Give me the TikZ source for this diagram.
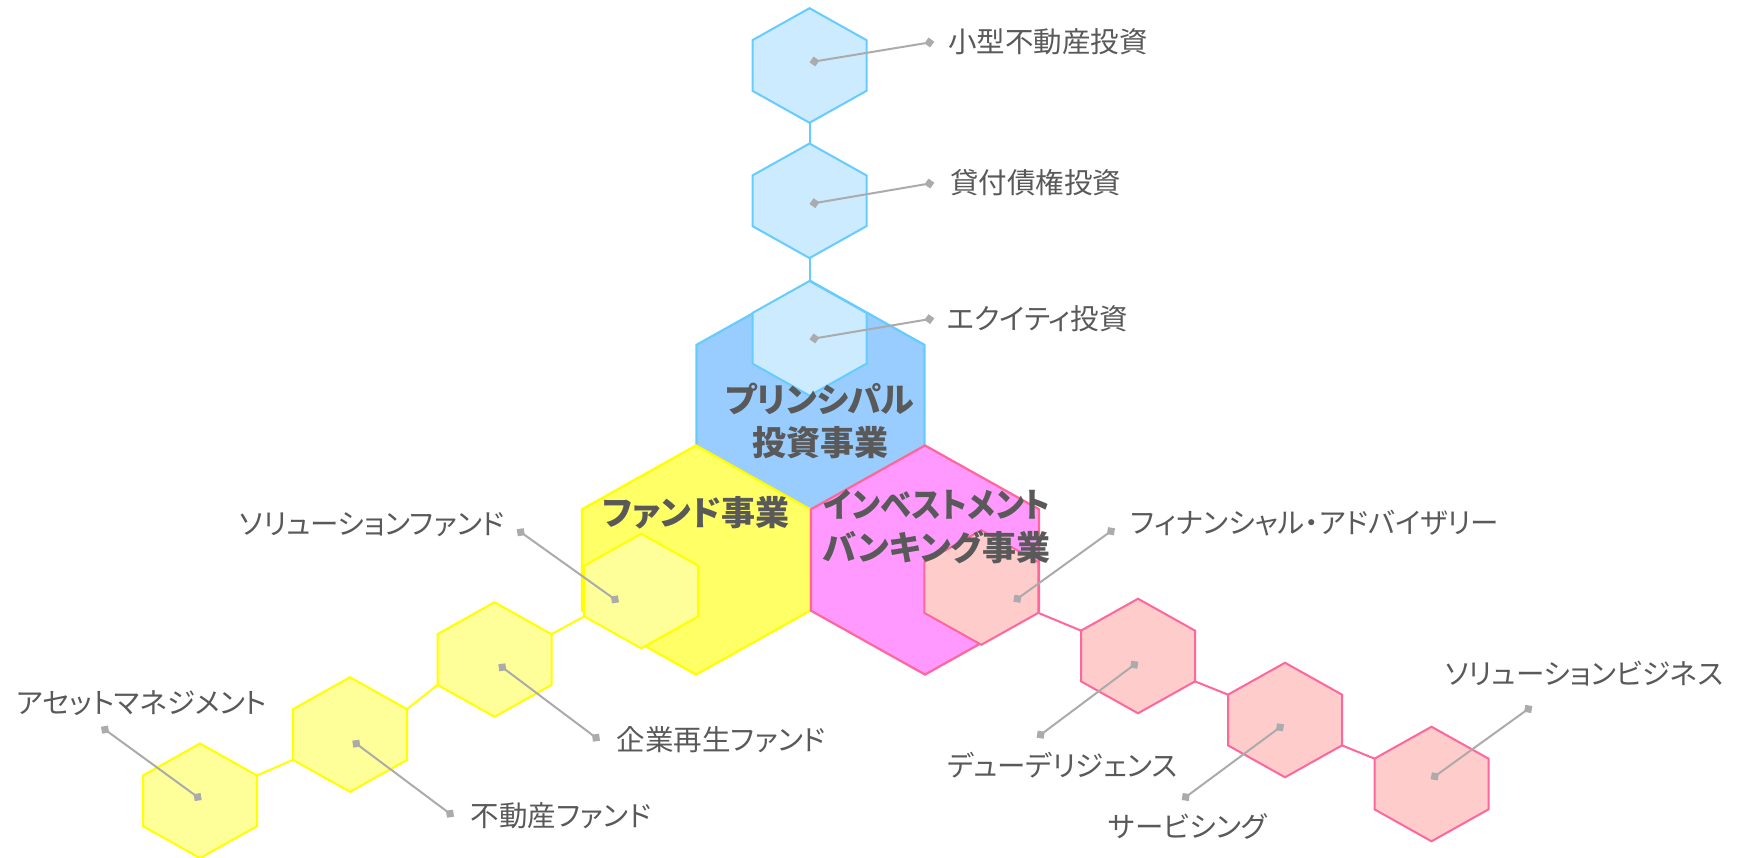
\documentclass[tikz,border=0pt]{standalone}
\usepackage{fontspec}
\newfontfamily\jp[RawFeature=+palt]{Noto Sans CJK JP}
\usetikzlibrary{arrows.meta}
\definecolor{bluefillbig}{HTML}{99CCFF}
\definecolor{bluestroke}{HTML}{66CCFF}
\definecolor{bluefillsmall}{HTML}{CCEBFF}
\definecolor{yelfillbig}{HTML}{FFFF66}
\definecolor{yelstroke}{HTML}{FFFF00}
\definecolor{yelfillsmall}{HTML}{FFFF99}
\definecolor{magfillbig}{HTML}{FF99FF}
\definecolor{pinkstroke}{HTML}{FF6699}
\definecolor{pinkfillsmall}{HTML}{FFCCCC}
\definecolor{txtgray}{HTML}{595959}
\definecolor{linegray}{HTML}{ABABAB}
\newcommand{\hexag}[5]{%
  \pgfmathsetmacro{\hxh}{1.005*#4}%
  \pgfmathsetmacro{\hxt}{0.56*#4}%
  \coordinate (#1) at (#2,#3);
  \coordinate (#1-t) at (#2,{#3-\hxh});
  \coordinate (#1-ur) at ({#2+#4},{#3-\hxh+\hxt});
  \coordinate (#1-lr) at ({#2+#4},{#3+\hxh-\hxt});
  \coordinate (#1-b) at (#2,{#3+\hxh});
  \coordinate (#1-ll) at ({#2-#4},{#3+\hxh-\hxt});
  \coordinate (#1-ul) at ({#2-#4},{#3-\hxh+\hxt});
  \draw[#5] (#1-t) -- (#1-ur) -- (#1-lr) -- (#1-b) -- (#1-ll) -- (#1-ul) -- cycle;
}
\tikzset{
  bigblue/.style={fill=bluefillbig, draw=bluestroke, line width=2.2pt, line join=miter},
  bigyel/.style={fill=yelfillbig, draw=yelstroke, line width=2.2pt},
  bigmag/.style={fill=magfillbig, draw=pinkstroke, line width=2.2pt},
  smblue/.style={fill=bluefillsmall, draw=bluestroke, line width=2pt},
  smyel/.style={fill=yelfillsmall, draw=yelstroke, line width=2pt},
  smpink/.style={fill=pinkfillsmall, draw=pinkstroke, line width=2pt},
  bluelink/.style={draw=bluestroke, line width=2pt},
  yellink/.style={draw=yelstroke, line width=2pt},
  pinklink/.style={draw=pinkstroke, line width=2pt},
  leader/.style={draw=linegray, line width=2pt,
    {Diamond[length=10pt,width=10pt]}-{Diamond[length=10pt,width=10pt]}},
  lab/.style={inner sep=0pt, text=txtgray, font=\jp\fontsize{28.5}{34}\selectfont},
  title/.style={inner sep=0pt, text=txtgray, align=center,
    font=\jp\bfseries\fontsize{34}{43}\selectfont},
}
\begin{document}
\begin{tikzpicture}[x=1pt,y=-1pt]
\useasboundingbox (0,0) rectangle (1737,858);
% big hexagons
\hexag{BB}{810.5}{395.6}{114}{bigblue}
\hexag{BY}{696}{560}{114}{bigyel}
\hexag{BM}{925}{560}{114}{bigmag}
% blue chain
\hexag{B1}{809.5}{65.5}{57}{smblue}
\hexag{B2}{809.5}{200.8}{57}{smblue}
\hexag{B3}{809.5}{338.3}{57}{smblue}
\draw[bluelink] (B1-b) -- (B2-t);
\draw[bluelink] (B2-b) -- (B3-t);
% yellow chain
\hexag{YD}{641.2}{591}{57}{smyel}
\hexag{YC}{494.5}{659.5}{57}{smyel}
\hexag{YB}{350}{734.5}{57}{smyel}
\hexag{YA}{200}{800.8}{57}{smyel}
\draw[yellink] (YA-ur) -- (YB-ll);
\draw[yellink] (YB-ur) -- (YC-ll);
\draw[yellink] (YC-ur) -- (YD-ll);
% pink chain
\hexag{P1}{981.3}{587.5}{57}{smpink}
\hexag{P2}{1138}{656}{57}{smpink}
\hexag{P3}{1285}{720}{57}{smpink}
\hexag{P4}{1431.5}{784}{57}{smpink}
\draw[pinklink] (P1-lr) -- (P2-ul);
\draw[pinklink] (P2-lr) -- (P3-ul);
\draw[pinklink] (P3-lr) -- (P4-ul);
% leader end points
\coordinate (dB1) at (809.5,62.3);   \coordinate (eB1) at (934.3,41.7);
\coordinate (dB2) at (809.5,204);  \coordinate (eB2) at (934.3,182.7);
\coordinate (dB3) at (809.5,339.3);  \coordinate (eB3) at (934.3,318.3);
\coordinate (dYD) at (619,602.3);  \coordinate (eYD) at (516.7,529.3);
\coordinate (dYC) at (498.3,664.3);\coordinate (eYC) at (600,740.7);
\coordinate (dYB) at (352.3,740.7);\coordinate (eYB) at (454,816.7);
\coordinate (dYA) at (201.7,800);  \coordinate (eYA) at (101,726.7);
\coordinate (dP1) at (1013.3,601.7);\coordinate (eP1) at (1115,528.3);
\coordinate (dP2) at (1138.3,661.7);\coordinate (eP2) at (1036.7,737.7);
\coordinate (dP3) at (1284,724.3); \coordinate (eP3) at (1181.7,800);
\coordinate (dP4) at (1430.7,779.3);\coordinate (eP4) at (1532.3,706);
\foreach \n in {B1,B2,B3,YD,YC,YB,YA,P1,P2,P3,P4}{\draw[leader] (d\n) -- (e\n);}
% labels
\node[lab, anchor=west] (lB1) at (948,41.7) {小型不動産投資};
\node[lab, anchor=west] (lB2) at (950,182.7) {貸付債権投資};
\node[lab, anchor=west] (lB3) at (946.7,318.3) {エクイティ投資};
\node[lab, anchor=east] (lYD) at (505,525) {ソリューションファンド};
\node[lab, anchor=west] (lYC) at (616.7,740) {企業再生ファンド};
\node[lab, anchor=west] (lYB) at (470.7,816) {不動産ファンド};
\node[lab, anchor=west] (lYA) at (16.6,703) {アセットマネジメント};
\node[lab, anchor=west] (lP1) at (1130.7,523.3) {フィナンシャル・アドバイザリー};
\node[lab, anchor=west] (lP2) at (946.7,765) {デューデリジェンス};
\node[lab, anchor=west] (lP3) at (1108.3,827) {サービシング};
\node[lab, anchor=west] (lP4) at (1445,673.3) {ソリューションビジネス};
% titles
\node[title] (tB) at (820,421) {プリンシパル\\投資事業};
\node[title] (tY) at (696,513) {ファンド事業};
\node[title] (tM) at (937,526.5) {\scalebox{0.92}[1]{インベストメント}\\バンキング事業};
\end{tikzpicture}
\end{document}
